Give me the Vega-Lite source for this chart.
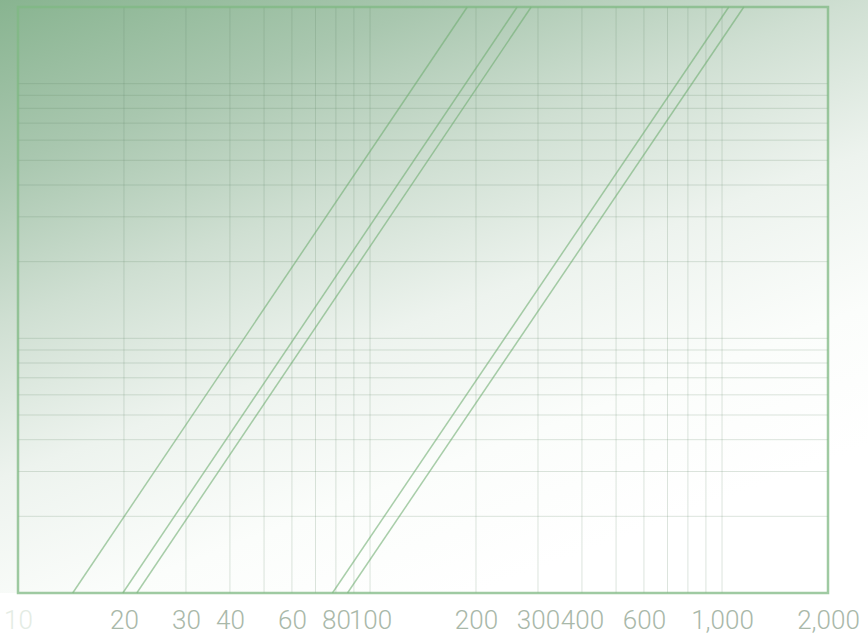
{
  "$schema": "https://vega.github.io/schema/vega-lite/v6.json",
  "width": 810,
  "height": 586,
  "autosize": {"type": "none"},
  "padding": {"left": 18, "top": 7, "right": 40, "bottom": 44},
  "background": "#ffffff",
  "config": {"view": {"stroke": null}},
  "datasets": {
    "bg": [{"x0": 8.88, "x1": 2600, "y0": 1, "y1": 216}],
    "frame": [{"x0": 10, "x1": 2000, "y0": 1, "y1": 200}],
    "vgrid": [{"v": 20}, {"v": 30}, {"v": 40}, {"v": 50}, {"v": 60}, {"v": 70}, {"v": 80}, {"v": 90}, {"v": 100}, {"v": 200}, {"v": 300}, {"v": 400}, {"v": 500}, {"v": 600}, {"v": 700}, {"v": 800}, {"v": 900}, {"v": 1000}],
    "hgrid": [{"v": 2}, {"v": 3}, {"v": 4}, {"v": 5}, {"v": 6}, {"v": 7}, {"v": 8}, {"v": 9}, {"v": 10}, {"v": 20}, {"v": 30}, {"v": 40}, {"v": 50}, {"v": 60}, {"v": 70}, {"v": 80}, {"v": 90}, {"v": 100}],
    "lines": [
      {"s": "a", "x": 14.3, "y": 1}, {"s": "a", "x": 188.9, "y": 200},
      {"s": "b", "x": 19.85, "y": 1}, {"s": "b", "x": 261.8, "y": 200},
      {"s": "c", "x": 21.75, "y": 1}, {"s": "c", "x": 287, "y": 200},
      {"s": "d", "x": 78.2, "y": 1}, {"s": "d", "x": 1045, "y": 200},
      {"s": "e", "x": 86.3, "y": 1}, {"s": "e", "x": 1153, "y": 200}
    ]
  },
  "layer": [
    {
      "data": {"name": "bg"},
      "mark": {
        "type": "rect",
        "clip": false,
        "strokeWidth": 0,
        "fill": {
          "gradient": "linear",
          "x1": 0, "y1": 0, "x2": 0.55, "y2": 1,
          "stops": [
            {"offset": 0, "color": "#88b490"},
            {"offset": 0.22, "color": "#a9c7af"},
            {"offset": 0.42, "color": "#cfdfd2"},
            {"offset": 0.62, "color": "#edf3ee"},
            {"offset": 0.82, "color": "#fbfdfb"},
            {"offset": 1, "color": "#ffffff"}
          ]
        }
      },
      "encoding": {
        "x": {
          "field": "x0", "type": "quantitative",
          "scale": {"type": "log", "domain": [10, 2000], "nice": false, "zero": false},
          "axis": {
            "title": null,
            "values": [10, 20, 30, 40, 60, 80, 100, 200, 300, 400, 600, 1000, 2000],
            "format": ",d",
            "grid": false,
            "domain": false,
            "ticks": false,
            "tickSize": 0,
            "labelPadding": 14,
            "labelFont": "Roboto",
            "labelFontSize": 26,
            "labelFontWeight": 300,
            "labelFlush": false,
            "labelOverlap": false,
            "labelColor": {"expr": "datum.value == 10 ? '#e4ece4' : '#a9b8a9'"}
          }
        },
        "x2": {"field": "x1"},
        "y": {
          "field": "y0", "type": "quantitative",
          "scale": {"type": "log", "domain": [1, 200], "nice": false, "zero": false},
          "axis": null
        },
        "y2": {"field": "y1"}
      }
    },
    {
      "data": {"name": "vgrid"},
      "mark": {"type": "rule", "color": "#5f8266", "opacity": 0.22, "strokeWidth": 1},
      "encoding": {"x": {"field": "v", "type": "quantitative"}}
    },
    {
      "data": {"name": "hgrid"},
      "mark": {"type": "rule", "color": "#5f8266", "opacity": 0.22, "strokeWidth": 1},
      "encoding": {"y": {"field": "v", "type": "quantitative"}}
    },
    {
      "data": {"name": "lines"},
      "mark": {"type": "line", "color": "#6fae72", "opacity": 0.6, "strokeWidth": 1.5},
      "encoding": {
        "x": {"field": "x", "type": "quantitative"},
        "y": {"field": "y", "type": "quantitative"},
        "detail": {"field": "s"}
      }
    },
    {
      "data": {"name": "frame"},
      "mark": {"type": "rect", "filled": false, "stroke": "#7fb883", "strokeOpacity": 0.75, "strokeWidth": 2.5},
      "encoding": {
        "x": {"field": "x0", "type": "quantitative"},
        "x2": {"field": "x1"},
        "y": {"field": "y0", "type": "quantitative"},
        "y2": {"field": "y1"}
      }
    }
  ]
}
